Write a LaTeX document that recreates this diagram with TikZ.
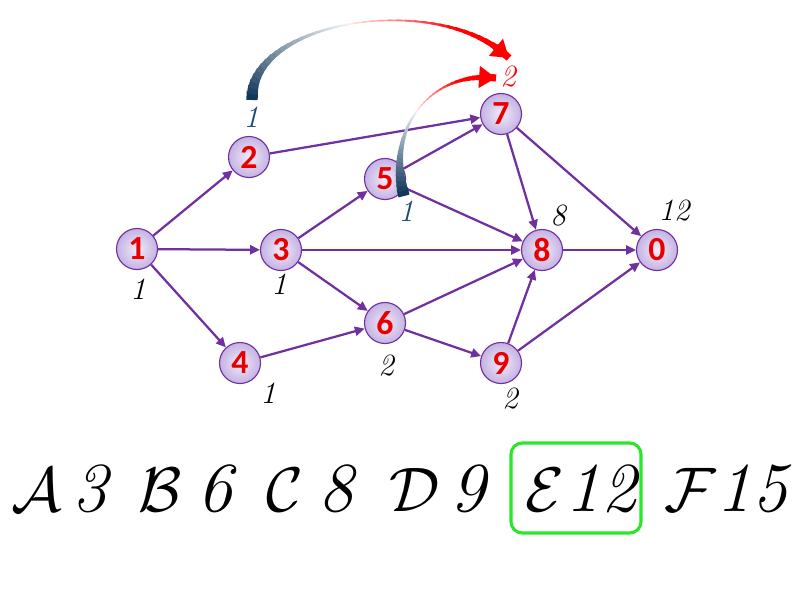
\documentclass[tikz,border=0pt]{standalone}
\usepackage{fontspec}
\newfontfamily\nodefont{Carlito}
\usetikzlibrary{arrows.meta}

\definecolor{edgec}{RGB}{112,48,160}
\definecolor{fillin}{RGB}{242,236,250}
\definecolor{fillout}{RGB}{196,178,226}
\definecolor{numred}{RGB}{232,0,0}
\definecolor{lblue}{RGB}{26,74,112}
\definecolor{dblue}{RGB}{18,56,92}
\definecolor{boxgreen}{RGB}{40,230,40}

% tapered arrow, dark blue -> white -> red
\newcommand{\fadearrow}[4]{%
 \foreach \i in {0,...,39}{
   \pgfmathsetmacro{\tpos}{\i/40}
   \pgfmathsetmacro{\tnext}{min(1,(\i+1.5)/40)}
   \pgfmathsetmacro{\wid}{33*(\tpos-0.5)^2-3.5*(\tpos-0.5)+1.5}
   \pgfmathsetmacro{\bl}{max(0,100-200*\tpos)}
   \pgfmathsetmacro{\rd}{min(100,max(0,300*(\tpos-0.45)))}
   \ifdim\tpos pt<0.47pt \colorlet{segc}{dblue!\bl!white}\else\colorlet{segc}{red!\rd!white}\fi
   \path (#1) .. controls (#2) and (#3) .. (#4) coordinate[pos=\tpos] (p) coordinate[pos=\tnext] (q);
   \draw[segc, line width=\wid*0.7pt] (p) -- (q);
 }
 \path (#1) .. controls (#2) and (#3) .. (#4) coordinate[pos=0.94] (h);
 \draw[red, line width=5pt, -{Triangle[length=12pt,width=15pt]}] (h) -- (#4);
}
\newcommand{\calit}[1]{\scalebox{1.8}{\fontsize{24.88}{30}\selectfont$\mathcal{#1}$}}

\tikzset{
  vert/.style={circle, draw=edgec, line width=0.8pt, shading=radial, inner color=fillin, outer color=fillout,
    minimum size=1.025cm, inner sep=0pt, font=\nodefont\bfseries\fontsize{24}{24}\selectfont, text=numred},
  edge/.style={draw=edgec, line width=1.6pt, -{Triangle[length=7pt,width=6.5pt]}},
  lbl/.style={font=\itshape\fontsize{22}{22}\selectfont, inner sep=0pt},
  res/.style={font=\itshape\fontsize{50}{50}\selectfont, inner sep=0pt, anchor=base},
  pick/.style={draw=boxgreen, line width=2.2pt, rounded corners=8pt}
}

\begin{document}
\begin{tikzpicture}[x=0.025cm, y=-0.025cm]
\useasboundingbox (0,0) rectangle (800,600);

\node[vert] (n1) at (137,249) {1};
\node[vert] (n2) at (249,157) {2};
\node[vert] (n3) at (281,250) {3};
\node[vert] (n4) at (240,363) {4};
\node[vert] (n5) at (385,179) {5};
\node[vert] (n6) at (385,323) {6};
\node[vert] (n7) at (501,114) {7};
\node[vert] (n8) at (542,250) {8};
\node[vert] (n9) at (501,363) {9};
\node[vert] (n0) at (657,250) {0};

\draw[edge] (n1) -- (n2);
\draw[edge] (n1) -- (n3);
\draw[edge] (n1) -- (n4);
\draw[edge] (n2) -- (n7);
\draw[edge] (n3) -- (n5);
\draw[edge] (n3) -- (n8);
\draw[edge] (n3) -- (n6);
\draw[edge] (n4) -- (n6);
\draw[edge] (n5) -- (n7);
\draw[edge] (n5) -- (n8);
\draw[edge] (n6) -- (n8);
\draw[edge] (n6) -- (n9);
\draw[edge] (n7) -- (n8);
\draw[edge] (n7) -- (n0);
\draw[edge] (n8) -- (n0);
\draw[edge] (n9) -- (n8);
\draw[edge] (n9) -- (n0);

\node[lbl] (l1) at (138,289) {1};
\node[lbl] (l3) at (279,284) {1};
\node[lbl] (l4) at (268,393) {1};
\node[lbl] (l6) at (386,366) {2};
\node[lbl] (l9) at (510,399) {2};
\node[lbl] (l8) at (558,216) {8};
\node[lbl] (l0) at (674,211) {12};
\node[lbl, text=lblue] (l2) at (251,117) {1};
\node[lbl, text=lblue] (l5) at (406,211) {1};
\node[lbl, text=red] (l7) at (508,77) {2};

\coordinate (a1) at (252,100);
\coordinate (b1) at (248,20);
\coordinate (c1) at (440,-10);
\coordinate (d1) at (509,58);
\fadearrow{a1}{b1}{c1}{d1}
\coordinate (a2) at (404,196);
\coordinate (b2) at (385,130);
\coordinate (c2) at (430,70);
\coordinate (d2) at (496,78);
\fadearrow{a2}{b2}{c2}{d2}

\node[res] (ka) at (37,511) {\calit{A}};
\node[res] (va) at (90,511) {3};
\node[res] (kb) at (160,511) {\calit{B}};
\node[res] (vb) at (215,511) {6};
\node[res] (kc) at (285,511) {\calit{C}};
\node[res] (vc) at (336,511) {8};
\node[res] (kd) at (415,511) {\calit{D}};
\node[res] (vd) at (468,511) {9};
\node[res] (ke) at (545,511) {\calit{E}};
\node[res] (ve) at (601,511) {12};
\node[res] (kf) at (690,511) {\calit{F}};
\node[res] (vf) at (752,511) {15};
\draw[pick] (511,443) rectangle (641,533);
\end{tikzpicture}
\end{document}
